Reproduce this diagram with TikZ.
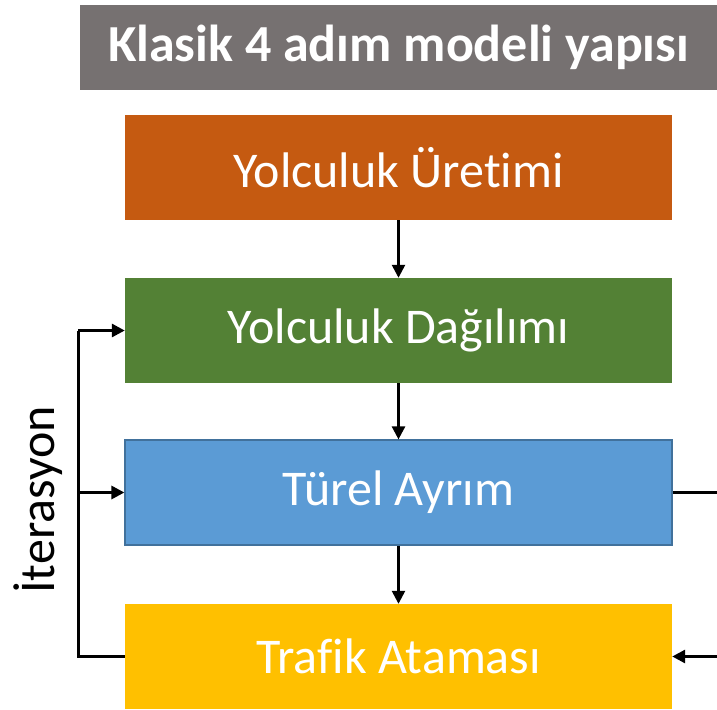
\documentclass[tikz,border=0pt]{standalone}
\usepackage{fontspec}
\setmainfont{Carlito}[Ligatures=NoCommon]
\usetikzlibrary{arrows.meta}
\definecolor{titlegray}{HTML}{767171}
\definecolor{stepOrange}{HTML}{C55A11}
\definecolor{stepGreen}{HTML}{538135}
\definecolor{stepBlue}{HTML}{5B9BD5}
\definecolor{stepBlueEdge}{HTML}{41719C}
\definecolor{stepYellow}{HTML}{FFC000}
\tikzset{
  stepbox/.style={rectangle, minimum width=547bp, minimum height=105bp,
    inner sep=0pt, text=white, font=\fontsize{50bp}{56bp}\selectfont},
  flow/.style={line width=2.5bp, -{Triangle[length=13bp,width=13bp]}},
  bracket/.style={line width=3bp}
}
\begin{document}
\begin{tikzpicture}[x=1bp, y=-1bp]
\useasboundingbox (0,0) rectangle (717,710);
\clip (0,0) rectangle (717,710);

% title bar
\node[rectangle, fill=titlegray, minimum width=637bp, minimum height=85bp,
  inner sep=0pt, text=white, font=\bfseries\fontsize{52bp}{58bp}\selectfont]
  (title) at (398.5,47.5) {Klasik 4 adım modeli yapısı};

% the four steps
\node[stepbox, fill=stepOrange] (gen)  at (398.5,167.5) {Yolculuk Üretimi};
\node[stepbox, fill=stepGreen]  (dist) at (398.5,330.5) {Yolculuk Dağılımı};
\node[stepbox, fill=stepBlue, draw=stepBlueEdge, line width=1.2bp]
  (mode) at (398.5,492.5) {Türel Ayrım};
\node[stepbox, fill=stepYellow] (assign) at (398.5,656.5) {Trafik Ataması};

% downward flow
\draw[flow] (gen.south) -- (dist.north);
\draw[flow] (dist.south) -- (mode.north);
\draw[flow] (mode.south) -- (assign.north);

% iteration loop on the left
\coordinate (loopx) at (78,0);
\draw[bracket] (assign.west) -| (loopx|-dist.west);
\draw[flow, line width=3bp] (loopx|-dist.west) -- (dist.west);
\draw[flow, line width=3bp] (loopx|-mode.west) -- (mode.west);
\node[rotate=90, font=\fontsize{50bp}{56bp}\selectfont, inner sep=0pt]
  (iter) at (38,500) {İterasyon};

% lines leaving / entering on the right
\coordinate (modeOut) at (717,492.5);
\coordinate (assignIn) at (717,656.5);
\draw[bracket] (mode.east) -- (modeOut);
\draw[flow, line width=3bp] (assignIn) -- (assign.east);
\end{tikzpicture}
\end{document}
